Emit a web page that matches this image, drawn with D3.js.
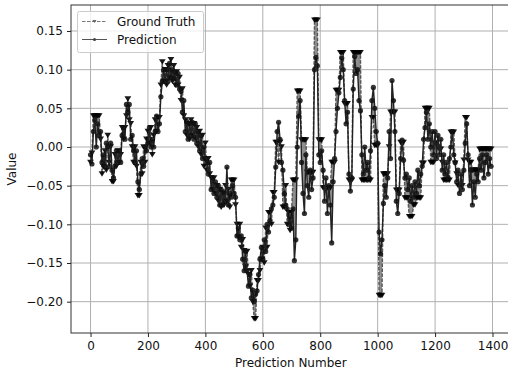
<!DOCTYPE html>
<html>
<head>
<meta charset="utf-8">
<script src="https://cdn.jsdelivr.net/npm/d3@7"></script>
<style>
  body { margin: 0; background: #fff; }
  svg { font-family: "DejaVu Sans", sans-serif; }
</style>
</head>
<body>
<div id="chart"></div>
<script>
// prediction numbers sampled every 5 steps
const predictionNumbers = d3.range(0, 1400, 5);

const groundTruth = [
  -0.02, -0.008, 0.04, 0.04, 0.04, 0.04, 0.04, 0.01, -0.035, -0.025, -0.005, -0.03, 0.015, -0.02, 0.0, -0.045, -0.045, -0.01, -0.025, -0.005,
  -0.02, -0.01, 0.025, 0.01, 0.025, 0.04, 0.062, 0.035, 0.03, 0.0, -0.02, 0.0, -0.025, -0.063, -0.063, -0.02, -0.035, 0.0, -0.02, 0.01,
  0.02, 0.005, 0.025, -0.01, 0.015, 0.035, 0.02, 0.038, 0.038, 0.08, 0.11, 0.085, 0.1, 0.08, 0.105, 0.09, 0.113, 0.085, 0.105, 0.08,
  0.097, 0.08, 0.09, 0.06, 0.075, 0.04, 0.035, 0.015, 0.03, 0.01, 0.035, 0.015, 0.03, 0.012, 0.025, 0.0, 0.02, -0.01, 0.015, -0.025,
  0.005, -0.03, -0.015, -0.035, -0.04, -0.055, -0.04, -0.06, -0.05, -0.07, -0.055, -0.078, -0.06, -0.075, -0.05, -0.07, -0.055, -0.078, -0.043, -0.043,
  -0.043, -0.075, -0.1, -0.117, -0.1, -0.13, -0.12, -0.134, -0.155, -0.135, -0.165, -0.18, -0.16, -0.2, -0.222, -0.222, -0.173, -0.173, -0.16, -0.145,
  -0.13, -0.15, -0.105, -0.13, -0.085, -0.085, -0.1, -0.059, -0.059, 0.006, 0.006, -0.02, 0.006, 0.0, -0.078, -0.078, -0.05, -0.1, -0.085, -0.108,
  -0.085, -0.043, -0.043, -0.043, 0.072, 0.072, 0.072, 0.009, 0.009, 0.009, 0.009, -0.033, -0.033, -0.033, -0.033, -0.033, 0.164, 0.164, 0.164, 0.009,
  0.009, 0.009, -0.053, -0.053, -0.053, -0.053, -0.053, -0.053, -0.02, -0.02, -0.02, 0.073, 0.073, 0.073, 0.122, 0.122, 0.122, 0.056, 0.056, 0.056,
  -0.043, -0.043, -0.043, 0.122, 0.122, 0.122, 0.122, 0.122, 0.122, -0.043, -0.043, -0.043, -0.043, -0.043, -0.043, -0.043, 0.038, 0.038, 0.002, 0.002,
  0.002, -0.192, -0.192, -0.192, -0.035, -0.035, -0.035, -0.035, 0.0, 0.045, 0.045, 0.045, 0.045, -0.056, -0.056, -0.056, 0.006, 0.006, 0.006, -0.066,
  -0.066, -0.066, -0.09, -0.09, -0.09, -0.075, -0.075, -0.066, -0.066, -0.066, -0.066, -0.021, -0.021, 0.05, 0.05, 0.05, 0.05, -0.02, -0.02, -0.02,
  0.005, 0.005, 0.0, -0.003, -0.003, -0.02, -0.043, -0.043, -0.043, -0.043, -0.043, 0.019, 0.019, 0.019, -0.021, -0.035, -0.05, -0.05, -0.05, -0.05,
  -0.017, 0.038, 0.038, -0.017, -0.02, -0.02, -0.03, -0.03, -0.03, -0.03, -0.03, -0.003, -0.003, -0.003, -0.003, -0.003, -0.003, -0.003, -0.003, -0.003
];

const prediction = [
  -0.01, -0.022, 0.02, 0.035, 0.0, 0.03, 0.015, 0.02, -0.02, -0.01, -0.025, 0.005, 0.0, -0.025, 0.005, -0.03, -0.04, -0.025, -0.005, -0.02,
  -0.005, -0.02, 0.015, 0.025, 0.01, 0.055, 0.045, 0.055, 0.01, 0.015, -0.005, -0.02, -0.005, -0.045, -0.055, -0.035, -0.015, -0.025, 0.0, -0.005,
  0.005, 0.025, 0.0, 0.01, 0.0, 0.02, 0.04, 0.02, 0.03, 0.065, 0.085, 0.1, 0.085, 0.1, 0.085, 0.108, 0.09, 0.1, 0.088, 0.097,
  0.08, 0.095, 0.075, 0.072, 0.045, 0.06, 0.02, 0.033, 0.01, 0.03, 0.015, 0.032, 0.01, 0.03, 0.005, 0.02, -0.005, 0.015, -0.015, 0.0,
  -0.015, -0.02, -0.035, -0.02, -0.055, -0.04, -0.06, -0.045, -0.065, -0.05, -0.075, -0.055, -0.075, -0.058, -0.07, -0.026, -0.075, -0.06, -0.065, -0.05,
  -0.06, -0.065, -0.115, -0.105, -0.12, -0.115, -0.145, -0.16, -0.135, -0.16, -0.18, -0.165, -0.195, -0.185, -0.2, -0.19, -0.186, -0.165, -0.145, -0.13,
  -0.145, -0.12, -0.135, -0.1, -0.11, -0.095, -0.08, -0.075, -0.065, -0.026, 0.02, 0.032, 0.01, -0.02, -0.03, -0.06, -0.075, -0.08, -0.1, -0.09,
  -0.105, -0.08, -0.147, -0.12, 0.0, 0.04, 0.06, -0.02, -0.06, -0.086, -0.01, -0.05, -0.065, -0.03, -0.055, -0.04, 0.1, 0.116, 0.105, -0.01,
  -0.02, -0.005, -0.03, -0.07, -0.04, -0.086, -0.05, -0.075, -0.124, -0.045, -0.015, 0.02, 0.05, 0.07, 0.09, 0.115, 0.1, 0.06, 0.03, 0.045,
  -0.035, -0.057, -0.04, 0.075, 0.117, 0.095, 0.1, 0.06, 0.047, -0.01, -0.035, 0.0, -0.03, -0.02, -0.04, -0.005, 0.06, 0.077, 0.05, 0.02,
  0.005, -0.11, -0.138, -0.12, -0.073, -0.05, -0.065, -0.04, 0.02, -0.015, 0.086, 0.06, 0.02, -0.07, -0.086, -0.06, -0.015, 0.009, -0.017, -0.04,
  -0.035, -0.055, -0.04, -0.07, -0.05, -0.065, -0.045, -0.06, -0.03, -0.05, -0.035, -0.025, 0.01, 0.025, 0.045, 0.01, 0.03, 0.0, 0.02, -0.01,
  0.02, -0.015, 0.015, -0.01, 0.01, -0.03, -0.01, -0.035, -0.02, -0.04, -0.015, 0.0, 0.02, -0.01, -0.02, -0.045, -0.03, -0.06, -0.035, -0.055,
  -0.03, 0.005, 0.03, -0.01, -0.05, -0.03, -0.075, -0.045, -0.065, -0.035, -0.045, -0.015, -0.03, -0.01, -0.04, -0.02, -0.01, -0.035, -0.015, -0.025
];

const xTicks = [0, 200, 400, 600, 800, 1000, 1200, 1400];
const yTicks = [-0.20, -0.15, -0.10, -0.05, 0.00, 0.05, 0.10, 0.15];
const seriesNames = ['Ground Truth', 'Prediction'];

const width = 508;
const height = 375;
const plot = { left: 71, right: 510.6, top: 5, bottom: 333 };

const svg = d3.select('#chart')
  .append('svg')
  .attr('width', width)
  .attr('height', height)
  .style('display', 'block');

svg.append('rect').attr('width', width).attr('height', height).attr('fill', '#fff');

const x = d3.scaleLinear().domain([-68, 1463]).range([plot.left, plot.right]);
const y = d3.scaleLinear().domain([-0.2405, 0.1836]).range([plot.bottom, plot.top]);

// grid
svg.append('g').selectAll('line.xg')
  .data(xTicks)
  .enter().append('line')
  .attr('x1', d => x(d)).attr('x2', d => x(d))
  .attr('y1', plot.top).attr('y2', plot.bottom)
  .attr('stroke', '#b0b0b0').attr('stroke-width', 1);
svg.append('g').selectAll('line.yg')
  .data(yTicks)
  .enter().append('line')
  .attr('x1', plot.left).attr('x2', plot.right)
  .attr('y1', d => y(d)).attr('y2', d => y(d))
  .attr('stroke', '#b0b0b0').attr('stroke-width', 1);

const gtData = predictionNumbers.map((n, i) => [n, groundTruth[i]]);
const predData = predictionNumbers.map((n, i) => [n, prediction[i]]);
const bothData = predictionNumbers.map((n, i) => [n, groundTruth[i], prediction[i]]);

const line = d3.line()
  .x(d => x(d[0]))
  .y(d => y(d[1]));

// gray fill between truth and prediction
const gap = d3.area()
  .x(d => x(d[0]))
  .y0(d => y(d[1]))
  .y1(d => y(d[2]));

svg.append('path')
  .datum(bothData)
  .attr('fill', '#7a7a7a')
  .attr('fill-opacity', 0.85)
  .attr('d', gap);

const tri = 'M-3.4,-2.7L3.4,-2.7L0,2.7Z';

// ground truth: dashed gray with down triangles
svg.append('path')
  .datum(gtData)
  .attr('fill', 'none')
  .attr('stroke', '#555')
  .attr('stroke-width', 1.4)
  .attr('stroke-dasharray', '3.5,1.5')
  .attr('d', line);

svg.append('g').selectAll('path')
  .data(gtData)
  .enter().append('path')
  .attr('d', tri)
  .attr('transform', d => `translate(${x(d[0])},${y(d[1])})`)
  .attr('fill', '#000')
  .attr('fill-opacity', 0.9);

// prediction: solid with dots
svg.append('path')
  .datum(predData)
  .attr('fill', 'none')
  .attr('stroke', '#222')
  .attr('stroke-width', 1.4)
  .attr('d', line);

svg.append('g').selectAll('circle')
  .data(predData)
  .enter().append('circle')
  .attr('cx', d => x(d[0]))
  .attr('cy', d => y(d[1]))
  .attr('r', 2.6)
  .attr('fill', '#111')
  .attr('fill-opacity', 0.85);

// spines
svg.append('rect')
  .attr('x', plot.left).attr('y', plot.top)
  .attr('width', plot.right - plot.left).attr('height', plot.bottom - plot.top)
  .attr('fill', 'none').attr('stroke', '#333').attr('stroke-width', 1);

// axes
const xAxis = svg.append('g')
  .attr('transform', `translate(0,${plot.bottom})`)
  .call(d3.axisBottom(x).tickValues(xTicks).tickSize(4).tickPadding(4).tickFormat(d3.format('d')));
const yAxis = svg.append('g')
  .attr('transform', `translate(${plot.left},0)`)
  .call(d3.axisLeft(y).tickValues(yTicks).tickSize(4).tickPadding(4).tickFormat(d3.format('.2f')));

[xAxis, yAxis].forEach(a => {
  a.select('.domain').remove();
  a.selectAll('.tick line').attr('stroke', '#222');
  a.selectAll('.tick text')
    .attr('fill', '#111')
    .style('font-size', '12px')
    .style('font-family', '"DejaVu Sans", sans-serif');
});

svg.append('text')
  .attr('x', (plot.left + plot.right) / 2)
  .attr('y', 367)
  .attr('text-anchor', 'middle')
  .style('font-size', '12px')
  .attr('fill', '#111')
  .text('Prediction Number');

svg.append('text')
  .attr('transform', `translate(16,${(plot.top + plot.bottom) / 2}) rotate(-90)`)
  .attr('text-anchor', 'middle')
  .style('font-size', '12px')
  .attr('fill', '#111')
  .text('Value');

// legend
const legend = svg.append('g');
legend.append('rect')
  .attr('x', 77.5).attr('y', 11.5)
  .attr('width', 126).attr('height', 41)
  .attr('rx', 2)
  .attr('fill', '#fff').attr('fill-opacity', 0.8)
  .attr('stroke', '#ccc');

const rowY = [21.5, 39.5];
seriesNames.forEach((name, i) => {
  const g = legend.append('g');
  g.append('line')
    .attr('x1', 82).attr('x2', 107)
    .attr('y1', rowY[i]).attr('y2', rowY[i])
    .attr('stroke', i === 0 ? '#777' : '#555')
    .attr('stroke-width', 1)
    .attr('stroke-dasharray', i === 0 ? '3.5,1.5' : null);
  if (i === 0) {
    g.append('path')
      .attr('d', tri)
      .attr('transform', `translate(94.5,${rowY[i]}) scale(0.6)`)
      .attr('fill', '#666');
  } else {
    g.append('circle')
      .attr('cx', 94.5).attr('cy', rowY[i]).attr('r', 1.6)
      .attr('fill', '#444');
  }
  g.append('text')
    .attr('x', 117).attr('y', rowY[i] + 4.5)
    .style('font-size', '12px')
    .attr('fill', '#111')
    .text(name);
});
</script>
</body>
</html>
